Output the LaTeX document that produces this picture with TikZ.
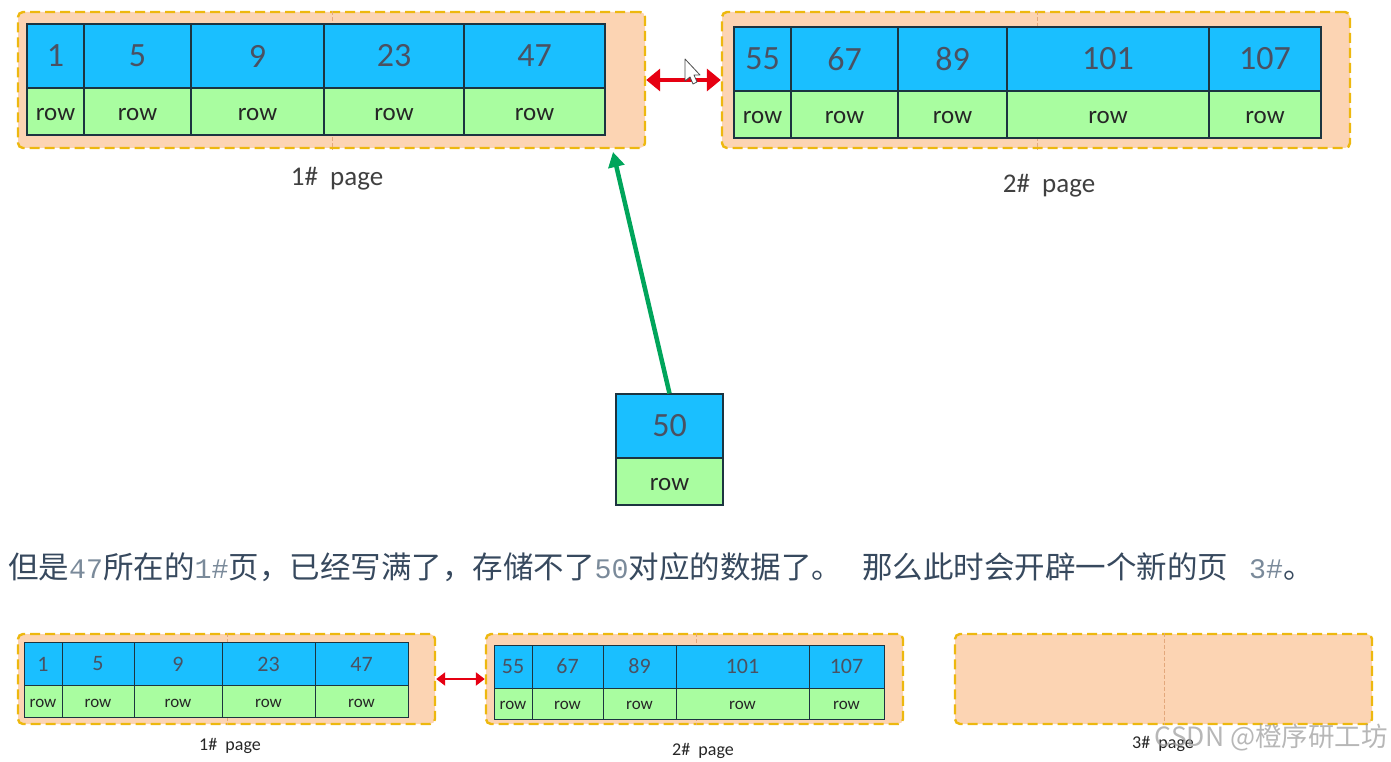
\documentclass[tikz,border=0pt]{standalone}
\usepackage{fontspec}
\setmainfont{Carlito}
\newfontfamily\cjk{Noto Sans CJK SC}
\newfontfamily\mono{Liberation Mono}
\definecolor{keyblue}  {HTML}{1ABFFF}
\definecolor{rowgreen} {HTML}{A9FDA0}
\definecolor{peach}    {HTML}{FCD4B3}
\definecolor{amber}    {HTML}{EDB80F}
\definecolor{seam}     {HTML}{E3A87C}
\definecolor{cellline} {HTML}{1C3440}
\definecolor{numink}   {HTML}{4A5162}
\definecolor{slate}    {HTML}{37495E}
\definecolor{slate2}   {HTML}{7A8A9A}
\definecolor{linkred}  {HTML}{E60012}
\definecolor{insgreen} {HTML}{00A55B}
\usetikzlibrary{arrows.meta}
\newcommand{\mononum}[1]{{\mono\fontsize{28.3}{30}\selectfont\color{slate2}#1}}

\begin{document}
\begin{tikzpicture}[
  x=1pt, y=-1pt,
  pagebox/.style={draw=amber, fill=peach, line width=2.4pt, dash pattern=on 10pt off 5pt,
                  rounded corners=5pt, inner sep=0pt},
  seamline/.style={draw=seam, line width=0.7pt, dash pattern=on 4pt off 2pt},
  cell/.style={draw=cellline, line width=1.2pt, inner sep=0pt},
  key/.style ={cell, fill=keyblue,  text=numink, font=\fontsize{34}{34}\selectfont},
  rowc/.style={cell, fill=rowgreen, text=black!85, text height=18pt, text depth=0pt,
               font=\fontsize{25}{25}\selectfont},
  keys/.style ={cell, line width=0.9pt, fill=keyblue,  text=numink, font=\fontsize{22}{22}\selectfont},
  rowcs/.style={cell, line width=0.9pt, fill=rowgreen, text=black!85, text height=12pt, text depth=0pt,
                font=\fontsize{17}{17}\selectfont},
  lbl/.style ={text=black!75, font=\fontsize{27}{27}\selectfont},
  lbls/.style={text=black!85, font=\fontsize{18}{18}\selectfont},
  link/.style={{Triangle[length=14pt,width=22pt]}-{Triangle[length=14pt,width=22pt]},
               draw=linkred, line width=4.5pt},
  links/.style={{Triangle[length=9pt,width=13pt]}-{Triangle[length=9pt,width=13pt]},
               draw=linkred, line width=2.5pt},
]
  \useasboundingbox (0,0) rectangle (1391,762);

  % --- top row: the two full pages ------------------------------
  \node[pagebox, minimum width=627pt, minimum height=136pt] (pga) at (331.5,80) {};
  \node[pagebox, minimum width=628pt, minimum height=136pt] (pgb) at (1036,80) {};
  \draw[seamline] (pga.north -| 332,0) -- (pga.south -| 332,0);
  \draw[seamline] (pgb.north -| 1037,0) -- (pgb.south -| 1037,0);

  \foreach \n/\xa/\xb in {1/27/84, 5/84/191, 9/191/324, 23/324/464, 47/464/605} {
    \node[key,  minimum width={(\xb-\xa)*1pt}, minimum height=64pt] (ka\n) at ({(\xa+\xb)/2},56) {\n};
    \node[rowc, minimum width={(\xb-\xa)*1pt}, minimum height=47pt] (ra\n) at ({(\xa+\xb)/2},111.5) {row};
  }
  \foreach \n/\xa/\xb in {55/734/791, 67/791/898, 89/898/1007, 101/1007/1209, 107/1209/1321} {
    \node[key,  minimum width={(\xb-\xa)*1pt}, minimum height=64pt] (kb\n) at ({(\xa+\xb)/2},59) {\n};
    \node[rowc, minimum width={(\xb-\xa)*1pt}, minimum height=47pt] (rb\n) at ({(\xa+\xb)/2},114.5) {row};
  }
  \node[lbl] (lbla) at (337,179) {1\#\ \ page};
  \node[lbl] (lblb) at (1049,186) {2\#\ \ page};

  \draw[link] (pga.east) -- (pgb.west);
  % mouse pointer left in the screenshot
  \draw[fill=white, draw=black!70, line width=0.8pt, line join=round] (685,59) -- (685,81) -- (690,77)
    -- (693,84) -- (697,82) -- (694,75) -- (700,75) -- cycle;

  % --- the new record --------------------------------------------
  \node[key,  minimum width=107pt, minimum height=64pt] (knew) at (669.5,426) {50};
  \node[rowc, minimum width=107pt, minimum height=47pt] (rnew) at (669.5,481.5) {row};
  \coordinate (hit) at (613,152);
  \draw[-{Triangle[length=15pt,width=16pt]}, draw=insgreen, line width=4.5pt] (knew.north) -- (hit);

  % --- the caption line ------------------------------------------
  \node[anchor=west, inner sep=0pt, text=slate, font=\fontsize{30.5}{30.5}\cjk] (note) at (8,567)
    {但是\mononum{47}所在的\mononum{1\#}页，已经写满了，存储不了\mononum{50}对应的数据了。\hspace{20pt}那么此时会开辟一个新的页\hspace{21pt}\mononum{3\#}。};

  % --- bottom row: a third page is opened ------------------------
  \node[pagebox, minimum width=417pt, minimum height=90pt] (pgc) at (226.5,679) {};
  \node[pagebox, minimum width=417pt, minimum height=90pt] (pgd) at (694.5,679) {};
  \node[pagebox, minimum width=417pt, minimum height=90pt] (pge) at (1163.5,679) {};
  \draw[seamline] (pgc.north -| 227,0) -- (pgc.south -| 227,0);
  \draw[seamline] (pgd.north -| 696,0) -- (pgd.south -| 696,0);
  \draw[seamline] (pge.north -| 1164,0) -- (pge.south -| 1164,0);

  \foreach \n/\xa/\xb in {1/24/62, 5/62/134, 9/134/222, 23/222/315, 47/315/408} {
    \node[keys,  minimum width={(\xb-\xa)*1pt}, minimum height=43pt] (kc\n) at ({(\xa+\xb)/2},664) {\n};
    \node[rowcs, minimum width={(\xb-\xa)*1pt}, minimum height=32pt] (rc\n) at ({(\xa+\xb)/2},701) {row};
  }
  \foreach \n/\xa/\xb in {55/494/532, 67/532/603, 89/603/676, 101/676/809, 107/809/884} {
    \node[keys,  minimum width={(\xb-\xa)*1pt}, minimum height=43pt] (kd\n) at ({(\xa+\xb)/2},666.5) {\n};
    \node[rowcs, minimum width={(\xb-\xa)*1pt}, minimum height=31pt] (rd\n) at ({(\xa+\xb)/2},703.5) {row};
  }
  \draw[links] (pgc.east) -- (pgd.west);
  \node[lbls] (lblc) at (230,746) {1\#\ \ page};
  \node[lbls] (lbld) at (703,751) {2\#\ \ page};
  \node[lbls] (lble) at (1163,744) {3\#\ \ page};

  % site mark over the corner
  \node[anchor=east, inner sep=0pt, text=black!40, opacity=0.7, font=\fontsize{26.5}{26.5}\cjk] (mark) at (1388,738) {CSDN @橙序研工坊};
\end{tikzpicture}
\end{document}
